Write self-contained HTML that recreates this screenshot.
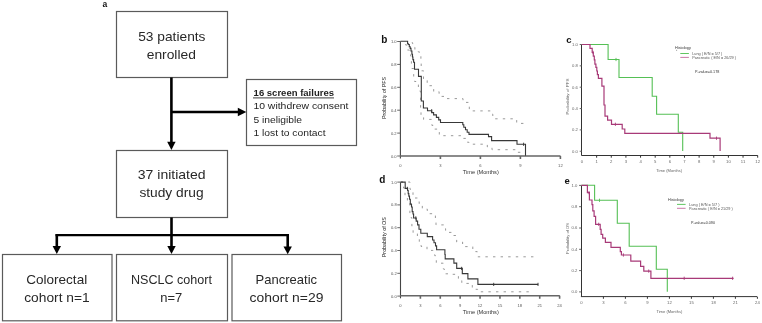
<!DOCTYPE html>
<html><head><meta charset="utf-8">
<style>
html,body{margin:0;padding:0;background:#fff;}
body{width:762px;height:323px;overflow:hidden;}
svg{display:block;font-family:"Liberation Sans",sans-serif;will-change:transform;}
</style></head>
<body>
<svg width="762" height="323" viewBox="0 0 762 323">
<rect width="762" height="323" fill="#fff"/>
<g id="flow">
<text x="102.4" y="7" font-size="8.5" font-weight="bold" fill="#111">a</text>
<g fill="none" stroke="#5a5a5a" stroke-width="1.2">
<rect x="116.5" y="11.5" width="111" height="66"/>
<rect x="246.5" y="79.5" width="110" height="66"/>
<rect x="116.5" y="150.5" width="111" height="67"/>
<rect x="2.5" y="254.5" width="109.5" height="66.3"/>
<rect x="116.5" y="254.5" width="111" height="66.3"/>
<rect x="232" y="254.5" width="109.5" height="66.3"/>
</g>
<g stroke="#000" stroke-width="2.6" fill="none">
<line x1="171.4" y1="77.5" x2="171.4" y2="143"/>
<line x1="171.4" y1="112" x2="239" y2="112"/>
<line x1="171.5" y1="217.5" x2="171.5" y2="247"/>
<line x1="56.8" y1="234.2" x2="56.8" y2="247"/>
<line x1="287.7" y1="234.2" x2="287.7" y2="248"/>
</g>
<line x1="55.5" y1="235.1" x2="289" y2="235.1" stroke="#000" stroke-width="2.1"/>
<g fill="#000">
<polygon points="167.2,141.8 175.6,141.8 171.4,150"/>
<polygon points="237.8,107.8 237.8,116.2 246.3,112"/>
<polygon points="167.3,246 175.7,246 171.5,254"/>
<polygon points="52.6,246 61,246 56.8,254"/>
<polygon points="283.5,246.5 291.9,246.5 287.7,254.3"/>
</g>
<g fill="#282828" font-size="12.6">
<text x="138.2" y="41" textLength="67.3" lengthAdjust="spacingAndGlyphs">53 patients</text>
<text x="146.7" y="58.5" textLength="49.2" lengthAdjust="spacingAndGlyphs">enrolled</text>
<text x="137.8" y="179.3" textLength="67.8" lengthAdjust="spacingAndGlyphs">37 initiated</text>
<text x="139.4" y="197" textLength="64.2" lengthAdjust="spacingAndGlyphs">study drug</text>
<text x="26.2" y="284.1" textLength="61" lengthAdjust="spacingAndGlyphs">Colorectal</text>
<text x="24.2" y="301.5" textLength="65.5" lengthAdjust="spacingAndGlyphs">cohort n=1</text>
<text x="131" y="284.3" textLength="81" lengthAdjust="spacingAndGlyphs">NSCLC cohort</text>
<text x="160.2" y="302" textLength="22" lengthAdjust="spacingAndGlyphs">n=7</text>
<text x="255.6" y="284.2" textLength="61.5" lengthAdjust="spacingAndGlyphs">Pancreatic</text>
<text x="249.6" y="301.5" textLength="73.8" lengthAdjust="spacingAndGlyphs">cohort n=29</text>
</g>
<g fill="#1e1e1e" font-size="8.8">
<text x="253.6" y="95.9" font-weight="bold" textLength="80.4" lengthAdjust="spacingAndGlyphs">16 screen failures</text>
<text x="253.4" y="109.3" textLength="95" lengthAdjust="spacingAndGlyphs">10 withdrew consent</text>
<text x="253.4" y="122.6" textLength="48.6" lengthAdjust="spacingAndGlyphs">5 ineligible</text>
<text x="253.4" y="135.9" textLength="72.2" lengthAdjust="spacingAndGlyphs">1 lost to contact</text>
</g>
<line x1="253" y1="97.9" x2="334" y2="97.9" stroke="#666" stroke-width="1.3"/>
</g>
<g id="pb"><text x="381.2" y="42.6" font-size="10" font-weight="bold" fill="#111">b</text>
<path d="M400.4,41.5V158.5" stroke="#444" stroke-width="1.1" fill="none"/>
<path d="M397.2,41.5H400.4M397.2,64.4H400.4M397.2,87.3H400.4M397.2,110.2H400.4M397.2,133.1H400.4M397.2,156H400.4" stroke="#555" stroke-width="0.9" fill="none"/>
<path d="M400,156H560.5M440.4,156V159M480.4,156V159M520.4,156V159M560.4,156V159" stroke="#666" stroke-width="1.6" fill="none"/>
<g font-size="4.1" fill="#555" text-anchor="end"><text x="396.6" y="43">1.0</text><text x="396.6" y="65.9">0.8</text><text x="396.6" y="88.8">0.6</text><text x="396.6" y="111.7">0.4</text><text x="396.6" y="134.6">0.2</text><text x="396.6" y="157.5">0.0</text></g>
<g font-size="4.1" fill="#555" text-anchor="middle"><text x="400.4" y="167">0</text><text x="440.4" y="167">3</text><text x="480.4" y="167">6</text><text x="520.4" y="167">9</text><text x="560.4" y="167">12</text></g>
<text x="462.8" y="174.3" font-size="5.8" fill="#333" textLength="36" lengthAdjust="spacingAndGlyphs">Time (Months)</text>
<text transform="translate(386.2,119) rotate(-90)" font-size="5.4" fill="#1a1a1a" textLength="42" lengthAdjust="spacingAndGlyphs">Probability of PFS</text>
<path d="M411.8,42.6H412.5V43.6H413.5V45.4H414V47.3H414.9V49.6H418.1V51.9H419.5V56.1H420.9V59.4H421.2V66H421.2V70.8H423.5V80.1H427.2V85.7H432.3V88H433.7V91.7H439.1V96.4H444.2V98.6H463V102.4H469.3V110.9H490.5V114.2H492.8V118.8H516.7V123.4H526V123.4" stroke="#999" stroke-width="1" stroke-dasharray="2.4 5.2" fill="none"/>
<path d="M405.6,44.2H405.6V45H407V50H409.3V54.7H410.7V56.1H411.4V68.5H413.7V76.5H414.6V81.5H416V84.3H418.4V89.4H420V91.5H420.6V103.3H420.6V108.9H421V116.3H423.6V119.4H431.9V125.4H434.3V129.1H439.3V134.7H443V135.7H463.4V138.4H465.9V142.2H468.8V144.2H487.3V147H492V149.7H516.7V152.3H523V152.3" stroke="#999" stroke-width="1" stroke-dasharray="2.4 5.2" fill="none"/>
<path d="M400.4,41.2H407.6V43.8H408.4V44.5H409.3V46.8H410.2V48.4H411V51H411.9V54.2H412.5V57H412.9V59.6H413.6V62.2H414.5V69.2H418.5V76.4H421.3V101H423.4V108H427.5V110.7H431.7V112.6H433.6V114.9H436.4V117.4H438.7V119.9H440.5V122.5H462.8V124.7H463.8V127.2H465.5V129.7H467.2V132.2H469V134.4H488.5V136.6H491.6V140.6H517V144.3H525.5V155.8" stroke="#383838" stroke-width="1.1" fill="none"/>
<path d="M431.7,109.1v3.2M523.6,142.7v3.2" stroke="#333" stroke-width="0.9" fill="none"/></g>
<g id="pd"><text x="379.3" y="183.3" font-size="10" font-weight="bold" fill="#111">d</text>
<path d="M400.5,182.1V298.3" stroke="#444" stroke-width="1.1" fill="none"/>
<path d="M397.3,182.1H400.5M397.3,204.9H400.5M397.3,227.7H400.5M397.3,250.5H400.5M397.3,273.3H400.5M397.3,296.1H400.5" stroke="#555" stroke-width="0.9" fill="none"/>
<path d="M400.1,295.8H559.8M420.39,295.8V298.8M440.28,295.8V298.8M460.17,295.8V298.8M480.06,295.8V298.8M499.95,295.8V298.8M519.84,295.8V298.8M539.73,295.8V298.8M559.62,295.8V298.8" stroke="#666" stroke-width="1.6" fill="none"/>
<g font-size="4.1" fill="#555" text-anchor="end"><text x="396.7" y="183.6">1.0</text><text x="396.7" y="206.4">0.8</text><text x="396.7" y="229.2">0.6</text><text x="396.7" y="252">0.4</text><text x="396.7" y="274.8">0.2</text><text x="396.7" y="297.6">0.0</text></g>
<g font-size="4.1" fill="#555" text-anchor="middle"><text x="400.5" y="306.6">0</text><text x="420.39" y="306.6">3</text><text x="440.28" y="306.6">6</text><text x="460.17" y="306.6">9</text><text x="480.06" y="306.6">12</text><text x="499.95" y="306.6">15</text><text x="519.84" y="306.6">18</text><text x="539.73" y="306.6">21</text><text x="559.62" y="306.6">24</text></g>
<text x="462.8" y="313.7" font-size="5.8" fill="#333" textLength="36" lengthAdjust="spacingAndGlyphs">Time (Months)</text>
<text transform="translate(386.4,257.2) rotate(-90)" font-size="5.4" fill="#1a1a1a" textLength="40" lengthAdjust="spacingAndGlyphs">Probability of OS</text>
<path d="M400.6,182H410V189.3H413V194.9H413.6V198H418.6V201.7H419.2V204.8H422.3V209.1H427.3V213.7H432.3V215.6H435.4V220.5H436V224.9H443.7V228.7H445.6V232.4H453.6V235.5H456.7V242H462.6V246.6H472.8V251.6H477.2V256.8H538.2V256.8" stroke="#999" stroke-width="1" stroke-dasharray="2.4 5.2" fill="none"/>
<path d="M400.6,182H403.5V188H405V196.1H407.4V203H409.9V213.4H411.1V217.7H411.9V226.1H413.1V232.9H417.4V237.9H419.3V242.8H421.1V246.5H427V250.4H432.8V255H435.2V258.6H436.3V263.2H443.3V269H444.4V273.8H452.6V274.3H458.4V280.6H461.8V283.4H472.3V289.3H477.6V291.8H531.3V291.8" stroke="#999" stroke-width="1" stroke-dasharray="2.4 5.2" fill="none"/>
<path d="M400.6,182.1H405.2V188.4H407.6V190.5H408.2V193.6H408.8V196.1H409.5V199.2H410.3V204.1H411.5V207H412.2V211.6H413V214H413.6V218H416.2V221.1H417.6V224.9H419V229.2H420.8V233.3H427.3V236.6H432.6V240H434V242.8H435.5V245.9H436.6V249.7H444.9V254.5H445.2V258.9H453.9V263.1H456.7V268.4H462.3V273.6H467.9V278.9H477.9V284.4H538.2V284.4" stroke="#383838" stroke-width="1.1" fill="none"/>
<path d="M407.4,186.8v3.2M415.8,216.3v3.2M461.6,266.8v3.2M493.7,282.8v3.2M538,282.8v3.2" stroke="#333" stroke-width="0.9" fill="none"/></g>
<g id="pc"><text x="566.2" y="42.7" font-size="9.5" font-weight="bold" fill="#111">c</text>
<path d="M581.5,44.5V155.5" stroke="#333" stroke-width="1" fill="none"/>
<path d="M579.7,44.5H582M579.7,65.85H582M579.7,87.2H582M579.7,108.55H582M579.7,129.9H582M579.7,151.25H582" stroke="#555" stroke-width="0.9" fill="none"/>
<path d="M581.5,155.5H757.8M596.64,155.5V157.7M611.28,155.5V157.7M625.92,155.5V157.7M640.56,155.5V157.7M655.2,155.5V157.7M669.84,155.5V157.7M684.48,155.5V157.7M699.12,155.5V157.7M713.76,155.5V157.7M728.4,155.5V157.7M743.04,155.5V157.7M757.68,155.5V157.7" stroke="#333" stroke-width="1" fill="none"/>
<g font-size="4.2" fill="#666" text-anchor="end"><text x="577.9" y="45.9">1.0</text><text x="577.9" y="67.25">0.8</text><text x="577.9" y="88.6">0.6</text><text x="577.9" y="109.95">0.4</text><text x="577.9" y="131.3">0.2</text><text x="577.9" y="152.65">0.0</text></g>
<g font-size="4.2" fill="#666" text-anchor="middle"><text x="582" y="163.1">0</text><text x="596.64" y="163.1">1</text><text x="611.28" y="163.1">2</text><text x="625.92" y="163.1">3</text><text x="640.56" y="163.1">4</text><text x="655.2" y="163.1">5</text><text x="669.84" y="163.1">6</text><text x="684.48" y="163.1">7</text><text x="699.12" y="163.1">8</text><text x="713.76" y="163.1">9</text><text x="728.4" y="163.1">10</text><text x="743.04" y="163.1">11</text><text x="757.68" y="163.1">12</text></g>
<text x="656.2" y="171.6" font-size="4.3" fill="#666" textLength="26" lengthAdjust="spacingAndGlyphs">Time (Months)</text>
<text transform="translate(568.6,114.6) rotate(-90)" font-size="4.2" fill="#666" textLength="36" lengthAdjust="spacingAndGlyphs">Probability of PFS</text>
<path d="M581.6,44.5H608.1V59.5H619V77.5H652.2V96.2H656.6V114.2H678.3V132.2H682.7V151" stroke="#55c055" stroke-width="1.1" fill="none"/>
<path d="M616,57.9v3.2" stroke="#55c055" stroke-width="0.9" fill="none"/>
<path d="M581.6,44.5H590V48.4H592.2V52.4H593.3V56.1H594.3V59.8H594.9V64.2H595.9V67.3H596.8V71H597.4V74.7H598.4V78.3H601.9V86.1H604V105H605V116.2H607.6V120.1H611.5V124.3H622.2V129H624.8V133.4H710V138.2H720.1V151" stroke="#a83a78" stroke-width="1.2" fill="none"/>
<path d="M593,50.8v3.2M615.4,122.7v3.2M716.5,136.6v3.2" stroke="#a83a78" stroke-width="0.9" fill="none"/>
<rect x="676.1" y="49.8" width="1" height="1" fill="#999"/>
<text x="675" y="48.9" font-size="4.4" fill="#333" textLength="15.8" lengthAdjust="spacingAndGlyphs">Histology</text>
<path d="M680.3,53.5H688.9" stroke="#4fc04f" stroke-width="0.9"/>
<path d="M680.3,57.4H688.9" stroke="#c26a9c" stroke-width="0.9"/>
<text x="692.2" y="54.9" font-size="4.3" fill="#555" textLength="30.2" lengthAdjust="spacingAndGlyphs">Lung ( E/N = 5/7 )</text>
<text x="692.2" y="58.8" font-size="4.3" fill="#555" textLength="43.8" lengthAdjust="spacingAndGlyphs">Pancreatic ( E/N = 26/29 )</text>
<text x="695" y="72.9" font-size="4.4" fill="#333" textLength="24.4" lengthAdjust="spacingAndGlyphs">P-value=0.178</text></g>
<g id="pe"><text x="564.4" y="183.8" font-size="9.5" font-weight="bold" fill="#111">e</text>
<path d="M581.5,185.4V296.6" stroke="#333" stroke-width="1" fill="none"/>
<path d="M579.1,185.4H581.4M579.1,206.7H581.4M579.1,228H581.4M579.1,249.3H581.4M579.1,270.6H581.4M579.1,291.9H581.4" stroke="#555" stroke-width="0.9" fill="none"/>
<path d="M580.9,296.6H757M603.4,296.6V298.8M625.4,296.6V298.8M647.4,296.6V298.8M669.4,296.6V298.8M691.4,296.6V298.8M713.4,296.6V298.8M735.4,296.6V298.8M757.4,296.6V298.8" stroke="#333" stroke-width="1" fill="none"/>
<g font-size="4.2" fill="#666" text-anchor="end"><text x="577.3" y="186.8">1.0</text><text x="577.3" y="208.1">0.8</text><text x="577.3" y="229.4">0.6</text><text x="577.3" y="250.7">0.4</text><text x="577.3" y="272">0.2</text><text x="577.3" y="293.3">0.0</text></g>
<g font-size="4.2" fill="#666" text-anchor="middle"><text x="581.4" y="303.8">0</text><text x="603.4" y="303.8">3</text><text x="625.4" y="303.8">6</text><text x="647.4" y="303.8">9</text><text x="669.4" y="303.8">12</text><text x="691.4" y="303.8">15</text><text x="713.4" y="303.8">18</text><text x="735.4" y="303.8">21</text><text x="757.4" y="303.8">24</text></g>
<text x="656.4" y="313" font-size="4.3" fill="#666" textLength="26" lengthAdjust="spacingAndGlyphs">Time (Months)</text>
<text transform="translate(568.7,254) rotate(-90)" font-size="4.2" fill="#666" textLength="31" lengthAdjust="spacingAndGlyphs">Probability of OS</text>
<path d="M581.4,185.3H594.6V200.3H617.3V223.2H629.2V246.3H656.3V269.3H667.3V291.8" stroke="#55c055" stroke-width="1.1" fill="none"/>
<path d="M599.5,198.7v3.2" stroke="#55c055" stroke-width="0.9" fill="none"/>
<path d="M581.4,185.3H587.4V192.6H589.4V200H592V204.7H592.8V210.9H594.1V216.3H595.6V224.3H600.2V229.4H601.1V234.4H602.7V238.1H605.4V242.4H611V247.4H620.3V251.7H621.4V255H630.8V261.1H640.6V266.3H643.8V271.1H650.9V278.3H733.6V278.3" stroke="#a83a78" stroke-width="1.2" fill="none"/>
<path d="M589,191v3.2M598.7,222.7v3.2M623.4,253.4v3.2M648.7,269.5v3.2M684.2,276.7v3.2M732.6,276.7v3.2" stroke="#a83a78" stroke-width="0.9" fill="none"/>
<text x="668" y="201.1" font-size="4.4" fill="#333" textLength="15.8" lengthAdjust="spacingAndGlyphs">Histology</text>
<path d="M677,204.4H685.6" stroke="#4fc04f" stroke-width="0.9"/>
<path d="M677,208.3H685.6" stroke="#c26a9c" stroke-width="0.9"/>
<text x="689" y="205.8" font-size="4.3" fill="#555" textLength="30.6" lengthAdjust="spacingAndGlyphs">Lung ( E/N = 5/7 )</text>
<text x="689" y="209.7" font-size="4.3" fill="#555" textLength="43.8" lengthAdjust="spacingAndGlyphs">Pancreatic ( E/N = 21/29 )</text>
<text x="691" y="224" font-size="4.4" fill="#333" textLength="24" lengthAdjust="spacingAndGlyphs">P-value=0.090</text></g>
</svg>
</body></html>
